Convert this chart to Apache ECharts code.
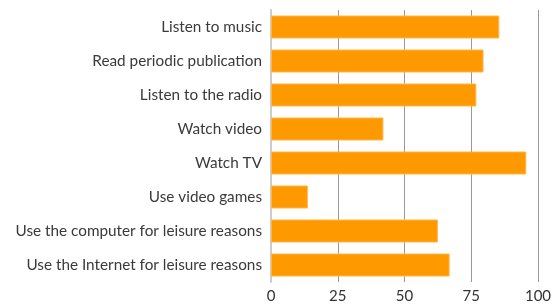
<!DOCTYPE html>
<html><head><meta charset="utf-8">
<script src="https://cdn.jsdelivr.net/npm/echarts@6/dist/echarts.min.js"></script>
<style>html,body{margin:0;padding:0;background:#fff}#c{width:559px;height:304px}</style>
</head><body><div id="c"></div>
<script>
const categories = ["Listen to music","Read periodic publication","Listen to the radio","Watch video","Watch TV","Use video games","Use the computer for leisure reasons","Use the Internet for leisure reasons"];
const values = [85.5, 79.6, 76.9, 42.1, 95.6, 13.8, 62.5, 66.9];
const tickValues = [0, 25, 50, 75, 100];

const chart = echarts.init(document.getElementById('c'), null, {renderer:'canvas'});
chart.setOption({
  animation:false,
  grid:{left:271, right:21, top:10, bottom:22, containLabel:false},
  xAxis:{type:'value', min:tickValues[0], max:tickValues[tickValues.length-1], interval:25,
    axisLine:{show:false}, axisTick:{show:false},
    splitLine:{show:true, lineStyle:{color:'#999', width:1}},
    axisLabel:{color:'#333', fontFamily:'Lato', fontSize:15, margin:7}},
  yAxis:{type:'category', inverse:true, data:categories,
    axisLine:{show:true, lineStyle:{color:'#ccc', width:2}}, axisTick:{show:false},
    axisLabel:{color:'#3a3a3a', fontFamily:'Lato', fontSize:15.3, margin:9}},
  series:[{type:'bar', data:values, barWidth:23,
    itemStyle:{color:'#ff9900', borderColor:'#ffb54a', borderWidth:1}}]
});
</script></body></html>
